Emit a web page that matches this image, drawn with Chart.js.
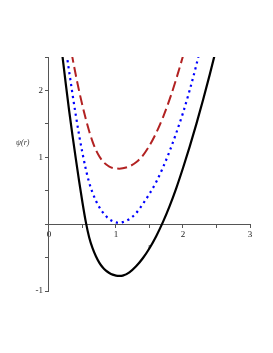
<!DOCTYPE html>
<html>
<head>
<meta charset="utf-8">
<script src="https://cdn.jsdelivr.net/npm/chart.js@4"></script>
<style>
  body { margin: 0; background: #fff; }
</style>
</head>
<body>
<canvas id="grafico_psi" width="273" height="353"></canvas>
<script>
// r values for each curve, psi
var r_preto = [0.18, 0.2, 0.25, 0.3, 0.35, 0.4, 0.45, 0.5, 0.55, 0.6, 0.65, 0.7, 0.75, 0.8, 0.85, 0.9, 0.95, 1.0, 1.05, 1.1, 1.2, 1.3, 1.4, 1.5, 1.6, 1.7, 1.8, 1.9, 2.0, 2.1, 2.2, 2.3, 2.4, 2.5]
var psi_preto = [2.7, 2.52, 2.1, 1.7, 1.33, 0.98, 0.64, 0.32, 0.03, -0.2, -0.36, -0.48, -0.575, -0.645, -0.695, -0.73, -0.755, -0.77, -0.775, -0.77, -0.72, -0.63, -0.51, -0.36, -0.18, 0.03, 0.27, 0.54, 0.84, 1.16, 1.5, 1.86, 2.24, 2.64]

var r_azul = [0.25, 0.3, 0.35, 0.4, 0.45, 0.5, 0.55, 0.6, 0.65, 0.7, 0.75, 0.8, 0.85, 0.9, 0.95, 1.0, 1.05, 1.1, 1.2, 1.3, 1.4, 1.5, 1.6, 1.7, 1.8, 1.9, 2.0, 2.1, 2.2, 2.3]
var psi_azul = [2.63, 2.29, 1.95, 1.63, 1.33, 1.06, 0.82, 0.62, 0.47, 0.35, 0.255, 0.18, 0.12, 0.074, 0.044, 0.026, 0.02, 0.03, 0.075, 0.165, 0.3, 0.455, 0.63, 0.845, 1.09, 1.365, 1.665, 2.005, 2.385, 2.805]

var r_vermelho = [0.3, 0.35, 0.4, 0.45, 0.5, 0.55, 0.6, 0.65, 0.7, 0.75, 0.8, 0.85, 0.9, 0.95, 1.0, 1.05, 1.1, 1.2, 1.3, 1.4, 1.5, 1.6, 1.7, 1.8, 1.9, 2.0, 2.1]
var psi_vermelho = [2.78, 2.49, 2.23, 1.99, 1.77, 1.57, 1.39, 1.235, 1.11, 1.015, 0.945, 0.895, 0.86, 0.84, 0.833, 0.83, 0.835, 0.865, 0.925, 1.025, 1.175, 1.365, 1.595, 1.865, 2.175, 2.515, 2.885]

var ticks_x = [0, 1, 2, 3]
var ticks_y = [-1, 1, 2]

function pontos(rs, ys) {
    return rs.map((r, i) => ({x: r, y: ys[i]}))
}

var fonte = {family: 'Liberation Serif', size: 9}

// writes the psi(r) label horizontally, like the original
var rotuloY = {
    id: 'rotuloY',
    afterDraw(chart) {
        var c = chart.ctx
        var y = chart.scales.y.getPixelForValue(1.22)
        c.save()
        c.font = 'italic 8px "Liberation Serif"'
        c.fillStyle = '#333'
        c.textAlign = 'left'
        c.textBaseline = 'middle'
        c.fillText('\u03C8(r)', chart.chartArea.left - 33, y)
        c.restore()
    }
}

var config = {
    type: 'line',
    data: {
        datasets: [
            {
                data: pontos(r_vermelho, psi_vermelho),
                borderColor: '#b22222',
                borderWidth: 2,
                borderDash: [10, 4.5],
                pointRadius: 0,
                cubicInterpolationMode: 'monotone'
            },
            {
                data: pontos(r_azul, psi_azul),
                borderColor: '#0000ff',
                borderWidth: 2.2,
                borderDash: [2.2, 3.8],
                pointRadius: 0,
                cubicInterpolationMode: 'monotone'
            },
            {
                data: pontos(r_preto, psi_preto),
                borderColor: '#000',
                borderWidth: 2.2,
                pointRadius: 0,
                cubicInterpolationMode: 'monotone'
            }
        ]
    },
    options: {
        responsive: false,
        animation: false,
        layout: {
            padding: {left: 33.5, right: 23, top: 57, bottom: 62}
        },
        scales: {
            x: {
                type: 'linear',
                position: {y: 0},
                min: 0,
                max: 3,
                ticks: {
                    stepSize: 0.5,
                    autoSkip: false,
                    maxRotation: 0,
                    padding: 2,
                    font: fonte,
                    color: '#222',
                    callback: (v) => ticks_x.includes(v) ? String(v) : ''
                },
                grid: {drawOnChartArea: false, tickLength: 3, color: '#555'},
                border: {color: '#555', width: 1},
                title: {display: true, text: 'r', font: {family: 'Liberation Serif', size: 8, style: 'italic'}, color: '#444', padding: 0}
            },
            y: {
                type: 'linear',
                position: 'left',
                min: -1,
                max: 2.5,
                ticks: {
                    stepSize: 0.5,
                    autoSkip: false,
                    padding: 2,
                    font: fonte,
                    color: '#222',
                    callback: (v) => ticks_y.includes(v) ? String(v) : ''
                },
                grid: {drawOnChartArea: false, tickLength: 4, color: '#555'},
                border: {color: '#555', width: 1}
            }
        },
        plugins: {
            legend: {display: false},
            tooltip: {enabled: false}
        }
    },
    plugins: [rotuloY]
}

var ctx_psi = document.getElementById('grafico_psi').getContext('2d')
var grafico_psi = new Chart(ctx_psi, config)
</script>
</body>
</html>
